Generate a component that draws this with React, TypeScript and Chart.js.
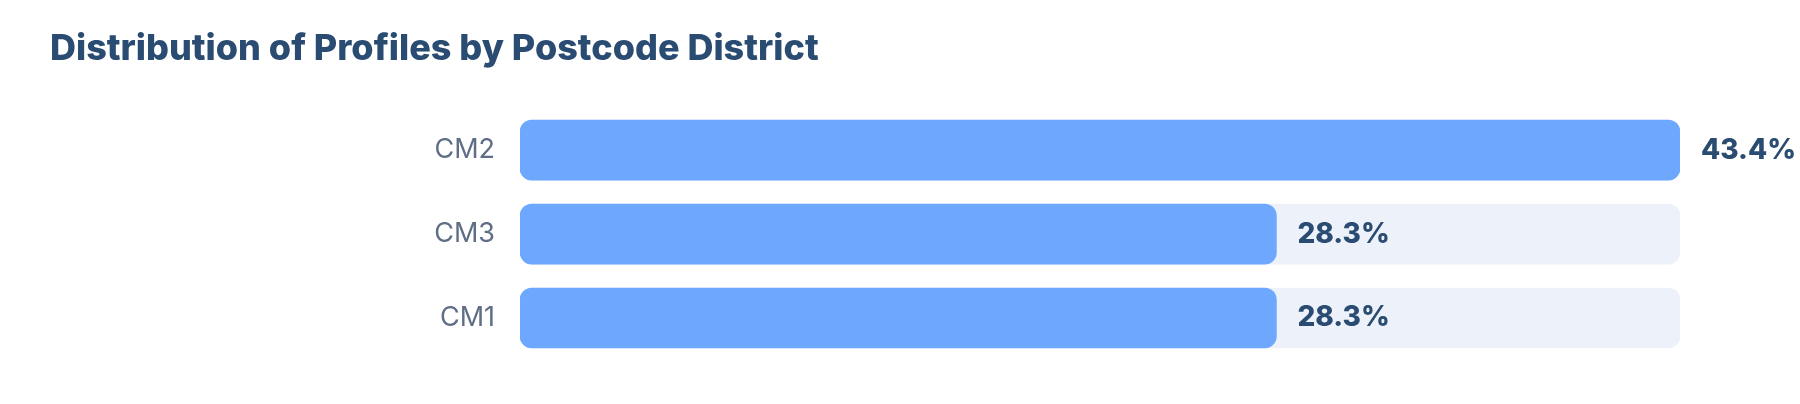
import { useEffect, useRef } from "react"
import { Chart, registerables, type ChartConfiguration, type Plugin } from "chart.js"

Chart.register(...registerables)

const districts = ["CM2", "CM3", "CM1"]
const shares = [43.4, 28.3, 28.3]
const shareLabels = ["43.4%", "28.3%", "28.3%"]

const maxShare = Math.max(...shares)
const trackValues = districts.map(() => maxShare)

const TITLE_COLOR = "#2b4c72"
const BAR_COLOR = "#6ea8fe"
const TRACK_COLOR = "#edf2fa"
const LABEL_COLOR = "#5f6e84"

// draws the percentage text just after the end of each bar
const valueLabels: Plugin<"bar"> = {
  id: "valueLabels",
  afterDatasetsDraw(chart) {
    const { ctx } = chart
    const meta = chart.getDatasetMeta(0)
    ctx.save()
    ctx.font = "800 28px Inter"
    ctx.fillStyle = TITLE_COLOR
    ctx.textAlign = "left"
    ctx.textBaseline = "middle"
    meta.data.forEach((bar, i) => {
      const { x, y } = bar.getProps(["x", "y"], true)
      ctx.fillText(shareLabels[i], x + 21, y)
    })
    ctx.restore()
  },
}

export default function App() {
  const canvasRef = useRef<HTMLCanvasElement>(null)
  const chartRef = useRef<Chart | null>(null)

  useEffect(() => {
    document.body.style.margin = "0"
    if (!canvasRef.current) return
    const ctx = canvasRef.current.getContext("2d")
    if (!ctx) return
    if (chartRef.current) chartRef.current.destroy()

    const config: ChartConfiguration<"bar"> = {
      type: "bar",
      data: {
        labels: districts,
        datasets: [
          {
            label: "Share of profiles",
            data: shares,
            backgroundColor: BAR_COLOR,
            borderRadius: 12,
            borderSkipped: false,
            barThickness: 60,
            grouped: false,
          },
          {
            label: "Track",
            data: trackValues,
            backgroundColor: TRACK_COLOR,
            borderRadius: 12,
            borderSkipped: false,
            barThickness: 60,
            grouped: false,
          },
        ],
      },
      options: {
        indexAxis: "y",
        animation: false,
        responsive: true,
        maintainAspectRatio: false,
        layout: {
          padding: { top: 0, left: 50, right: 120, bottom: 44 },
        },
        scales: {
          x: {
            display: false,
            min: 0,
            max: maxShare,
          },
          y: {
            grid: { display: false, drawTicks: false },
            border: { display: false },
            ticks: {
              color: LABEL_COLOR,
              font: { family: "Inter", size: 27, weight: 400 },
              padding: 25,
            },
            afterFit(scale) {
              scale.width = 470
            },
          },
        },
        plugins: {
          legend: { display: false },
          tooltip: { enabled: false },
          title: {
            display: true,
            text: "Distribution of Profiles by Postcode District",
            align: "start",
            color: TITLE_COLOR,
            font: { family: "Inter", size: 36, weight: 800, lineHeight: 1.2 },
            padding: { top: 28, bottom: 37 },
          },
        },
      },
      plugins: [valueLabels],
    }

    chartRef.current = new Chart(ctx, config)
    return () => {
      if (chartRef.current) {
        chartRef.current.destroy()
        chartRef.current = null
      }
    }
  }, [])

  return (
    <div style={{ position: "relative", width: 1800, height: 404, background: "#fff" }}>
      <canvas ref={canvasRef}></canvas>
    </div>
  )
}
